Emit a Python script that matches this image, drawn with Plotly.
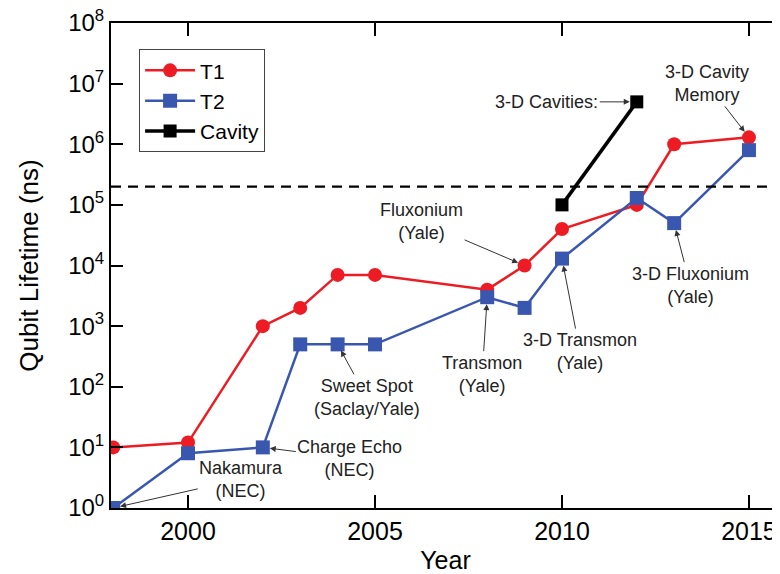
import plotly.graph_objects as go
import math

# ---- data ----
t1_years = [1998, 2000, 2002, 2003, 2004, 2005, 2008, 2009, 2010, 2012, 2013, 2015]
t1_values = [10, 12, 1000, 2000, 7000, 7000, 4000, 10000, 40000, 100000, 1000000, 1300000]

t2_years = [1998, 2000, 2002, 2003, 2004, 2005, 2008, 2009, 2010, 2012, 2013, 2015]
t2_values = [1, 8, 10, 500, 500, 500, 3000, 2000, 13000, 130000, 50000, 800000]

cavity_years = [2010, 2012]
cavity_values = [100000, 5000000]

threshold = 2e5

x_ticks = [2000, 2005, 2010, 2015]
y_exponents = list(range(0, 9))
y_tickvals = [10 ** e for e in y_exponents]
y_ticktext = ["10<sup>%d</sup>" % e for e in y_exponents]
right_tickvals = [2 * 10 ** e for e in range(1, 7)]

# annotations: (label, year, value, dx, dy)
notes = [
    ("Nakamura<br>(NEC)", 1998, 1, 128, -29),
    ("Charge Echo<br>(NEC)", 2002, 10, 87, 11),
    ("Sweet Spot<br>(Saclay/Yale)", 2004, 500, 29, 53),
    ("Transmon<br>(Yale)", 2008, 3000, -5, 77),
    ("3-D Transmon<br>(Yale)", 2010, 13000, 18, 93),
    ("Fluxonium<br>(Yale)", 2009, 10000, -103, -44),
    ("3-D Fluxonium<br>(Yale)", 2013, 50000, 16, 62),
    ("3-D Cavity<br>Memory", 2015, 1300000, -42, -54),
    ("3-D Cavities:", 2012, 5000000, -90, 0),
]

FONT = "Arial, Liberation Sans, sans-serif"
RED = "#ED1C24"
BLUE = "#3A57B0"

fig = go.Figure()
fig.add_trace(go.Scatter(x=t1_years, y=t1_values, name="T1", mode="lines+markers",
                         line=dict(color=RED, width=2.5),
                         marker=dict(symbol="circle", size=14, color=RED)))
fig.add_trace(go.Scatter(x=t2_years, y=t2_values, name="T2", mode="lines+markers",
                         line=dict(color=BLUE, width=2.5),
                         marker=dict(symbol="square", size=14, color=BLUE)))
fig.add_trace(go.Scatter(x=cavity_years, y=cavity_values, name="Cavity", mode="lines+markers",
                         line=dict(color="black", width=3.5),
                         marker=dict(symbol="square", size=13, color="black")))
# dummy trace to materialise the right-hand tick axis
fig.add_trace(go.Scatter(x=[None], y=[None], yaxis="y2", showlegend=False, hoverinfo="skip"))

fig.add_hline(y=threshold, line=dict(color="black", width=2.2, dash="10px,7px"))

for label, yr, val, dx, dy in notes:
    fig.add_annotation(x=yr, y=math.log10(val), xref="x", yref="y", text=label,
                       showarrow=True, ax=dx, ay=dy, arrowhead=2, arrowsize=1.2,
                       arrowwidth=1, arrowcolor="#333", standoff=7,
                       font=dict(family=FONT, size=18, color="#222"), align="center")

fig.update_layout(
    template="none",
    width=772, height=566,
    margin=dict(l=103, r=0, t=15, b=66, autoexpand=False),
    paper_bgcolor="white", plot_bgcolor="white",
    font=dict(family=FONT, color="black"),
    showlegend=True,
    legend=dict(x=0.042, y=0.946, xanchor="left", yanchor="top",
                bordercolor="#444", borderwidth=1, bgcolor="white",
                font=dict(family=FONT, size=21, color="black"),
                tracegroupgap=0, itemwidth=50),
    xaxis=dict(range=[1997.94, 2015.83], tickvals=x_ticks, ticks="inside", ticklen=13,
               tickwidth=2, tickcolor="black", showline=True, linewidth=2, linecolor="black",
               mirror="ticks", showgrid=False, zeroline=False, automargin=False,
               ticklabeloverflow="allow",
               tickfont=dict(family=FONT, size=25, color="black"),
               title=dict(text="Year", font=dict(family=FONT, size=25, color="black"), standoff=10)),
    yaxis=dict(type="log", range=[0, 8], tickvals=y_tickvals, ticktext=y_ticktext,
               ticks="inside", ticklen=12, tickwidth=2, tickcolor="black",
               showline=True, linewidth=2, linecolor="black", mirror=False,
               showgrid=False, zeroline=False, automargin=False,
               ticklabeloverflow="allow",
               tickfont=dict(family=FONT, size=24, color="black"),
               title=dict(text="Qubit Lifetime (ns)", font=dict(family=FONT, size=26, color="black"),
                          standoff=22)),
    yaxis2=dict(type="log", range=[0, 8], overlaying="y", side="right",
                tickvals=right_tickvals, ticks="inside", ticklen=5, tickwidth=2,
                tickcolor="black", showticklabels=False, showline=False,
                showgrid=False, zeroline=False, automargin=False),
)

fig.write_html("out.html")
